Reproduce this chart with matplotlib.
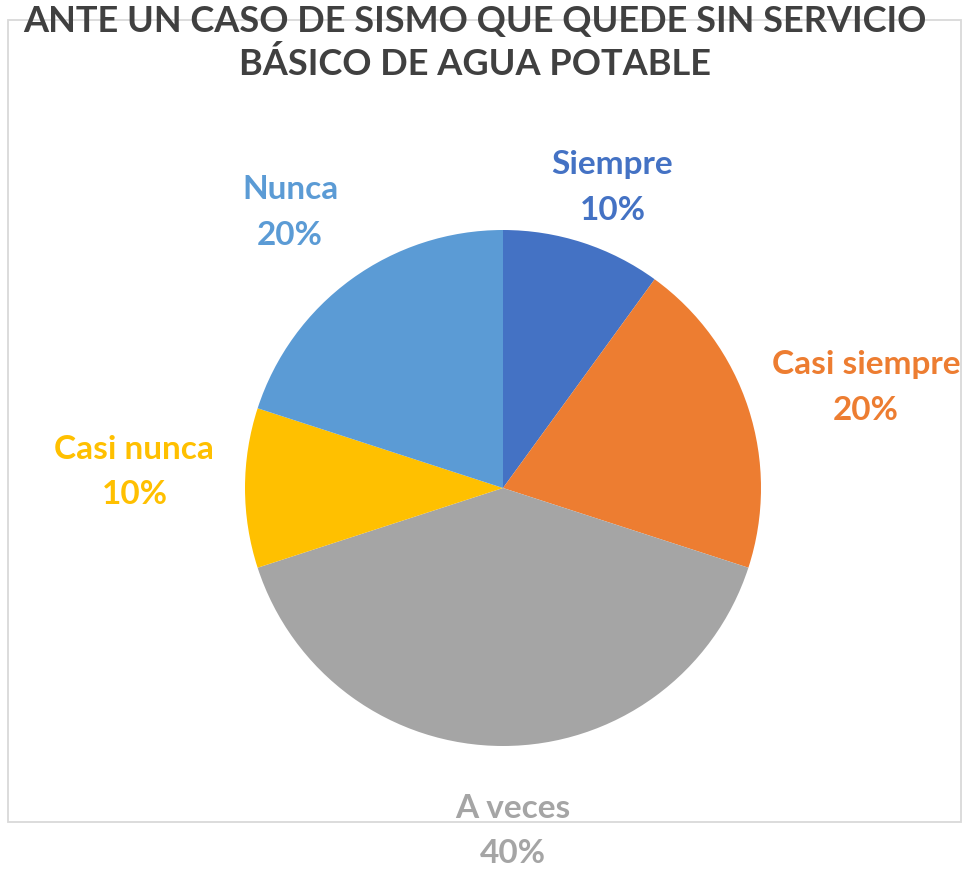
import matplotlib
matplotlib.use("Agg")
import matplotlib.pyplot as plt
import numpy as np
from matplotlib.patches import Rectangle

# Data
categories = ["Siempre", "Casi siempre", "A veces", "Casi nunca", "Nunca"]
values = [10, 20, 40, 10, 20]
colors = ["#4472C4", "#ED7D31", "#A5A5A5", "#FFC000", "#5B9BD5"]
title = "ANTE UN CASO DE SISMO QUE QUEDE SIN SERVICIO\nBÁSICO DE AGUA POTABLE"

# label placement: distance from centre (radii) and angle nudge (deg)
label_dist = [1.24, 1.46, 1.33, 1.43, 1.35]
label_nudge = [-2.0, -2.5, 1.7, -2.5, 1.7]

plt.rcParams["font.family"] = ["Lato", "DejaVu Sans"]

W, H = 969, 871
fig = plt.figure(figsize=(W / 100, H / 100), dpi=100)

# chart border
fig.patches.append(
    Rectangle((8 / W, 1 - 822 / H), 953 / W, 802 / H, transform=fig.transFigure,
              fill=False, edgecolor="#D9D9D9", linewidth=1.3)
)

cx, cy, r = 503, 488, 258
ax = fig.add_axes([(cx - r) / W, (H - cy - r) / H, 2 * r / W, 2 * r / H])
wedges, _ = ax.pie(values, colors=colors, startangle=90, counterclock=False,
                   radius=1, wedgeprops=dict(linewidth=0))
ax.set_xlim(-1, 1)
ax.set_ylim(-1, 1)
ax.axis("off")

total = sum(values)
for w, name, v, d, a, c in zip(wedges, categories, values, label_dist,
                                label_nudge, colors):
    ang = np.deg2rad((w.theta1 + w.theta2) / 2 + a)
    ax.text(d * np.cos(ang), d * np.sin(ang), f"{name}\n{v / total:.0%}",
            ha="center", va="center", color=c, fontsize=24, fontweight="bold",
            linespacing=1.7, clip_on=False)

fig.text(475 / W, 1 - 43 / H, title, ha="center", va="center",
         fontsize=26, fontweight="bold", color="#404040", linespacing=1.3)

fig.savefig("out.png", dpi=100, facecolor="white")
